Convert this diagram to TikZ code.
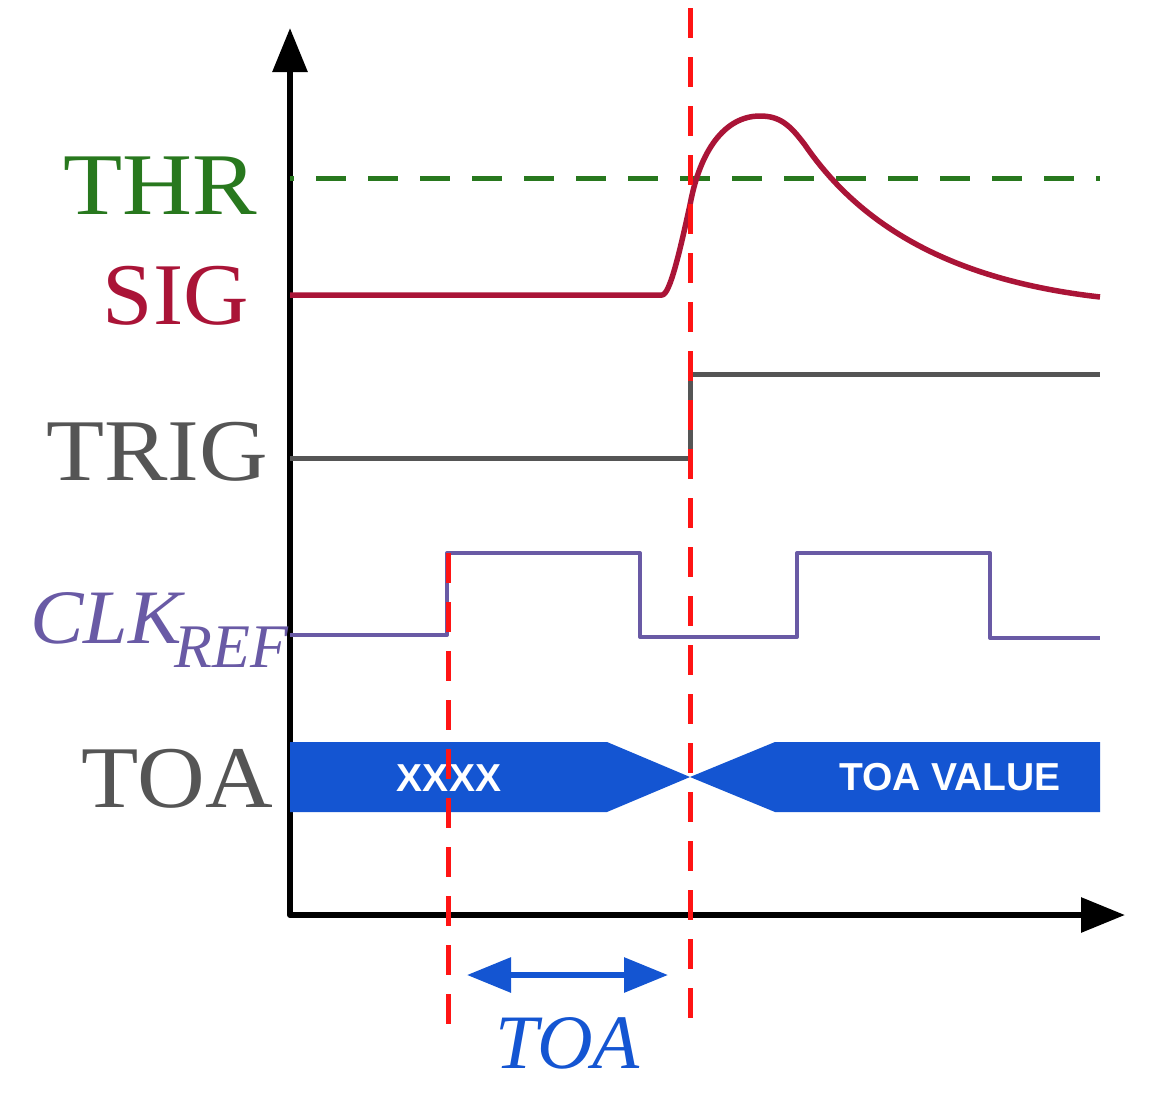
\documentclass[tikz,border=0pt]{standalone}
\usepackage{fontspec}
\setmainfont{Liberation Serif}
\newfontfamily\busfont{Liberation Sans}
\usetikzlibrary{arrows.meta}
\definecolor{thrgreen}{RGB}{40,120,30}
\definecolor{sigred}{RGB}{170,20,55}
\definecolor{triggray}{RGB}{85,85,85}
\definecolor{clkpurple}{RGB}{105,90,165}
\definecolor{busblue}{RGB}{20,85,210}
\definecolor{markred}{RGB}{255,20,20}
\begin{document}
\begin{tikzpicture}[x=1pt,y=-1pt,
  axis/.style={line width=6pt,line join=round,{Triangle[length=44pt,width=34pt]}-{Triangle[length=44pt,width=34pt]}},
  lbl/.style={anchor=base east,inner sep=0pt,font=\fontsize{88}{90}\selectfont},
  wave/.style={line width=5pt,line join=round},
  marker/.style={draw=markred,line width=5pt,dash pattern=on 30pt off 19pt},
  bus/.style={fill=busblue,draw=none},
  bustext/.style={text=white,font=\busfont\bfseries\fontsize{39}{40}\selectfont,inner sep=0pt}]
\useasboundingbox[fill=white] (0,0) rectangle (1154,1095);
% axes
\coordinate (O) at (290,915);
\coordinate (ytip) at (290,28);
\coordinate (xtip) at (1125,915);
\draw[axis] (ytip) -- (O) -- (xtip);
% labels
\node[lbl,text=thrgreen] (thr) at (257,214) {\scalebox{1.1}[1]{THR}};
\node[lbl,text=sigred] (sig) at (249,324) {\scalebox{1.03}[1]{SIG}};
\node[lbl,text=triggray] (trig) at (268,480) {\scalebox{1.08}[1]{TRIG}};
\node[lbl,text=clkpurple,anchor=base west,font=\fontsize{77}{80}\selectfont\itshape] (clk) at (30,643)
  {\scalebox{1.04}[1]{CLK}\hspace{-7pt}\raisebox{-24pt}{\fontsize{62}{64}\selectfont REF}};
\node[lbl,text=triggray] (toa) at (273,807) {\scalebox{1.065}[1]{TOA}};
% threshold
\draw[thrgreen,line width=5pt,dash pattern=on 30pt off 22pt,dash phase=26pt] (290,178) -- (1100,178);
% signal
\draw[wave,sigred,line width=5.5pt] (290,295) -- (662,295) .. controls (670,295) and (680,250) .. (690,205)
  .. controls (700,150) and (725,116) .. (760,116)
  .. controls (780,116) and (790,125) .. (805,145)
  .. controls (860,225) and (950,280) .. (1100,297);
% trigger
\draw[wave,triggray] (290,458) -- (690,458) -- (690,374) -- (1100,374);
% clock
\draw[wave,clkpurple,line width=4pt] (290,635) -- (447,635) -- (447,553) -- (640,553) -- (640,637)
  -- (797,637) -- (797,553) -- (990,553) -- (990,638) -- (1100,638);
% TOA bus
\fill[bus] (290,742) -- (607,742) -- (690,777) -- (607,812) -- (290,812) -- cycle;
\fill[bus] (690,777) -- (775,742) -- (1100,742) -- (1100,812) -- (775,812) -- cycle;
\node[bustext] (xxxx) at (449,778) {XXXX};
\node[bustext] (toaval) at (950,777) {TOA VALUE};
% markers
\coordinate (m1top) at (448,553);
\coordinate (m1bot) at (448,1032);
\coordinate (m2top) at (690,8);
\coordinate (m2bot) at (690,1025);
\draw[marker] (m1top) -- (m1bot);
\draw[marker] (m2top) -- (m2bot);
% TOA interval
\coordinate (a1) at (467,975);
\coordinate (a2) at (668,975);
\draw[busblue,line width=6pt,{Triangle[length=44pt,width=34pt]}-{Triangle[length=44pt,width=34pt]}] (a1) -- (a2);
\node[text=busblue,inner sep=0pt,anchor=base,font=\fontsize{77}{78}\selectfont\itshape] (toalbl) at (568,1068) {TOA};
\end{tikzpicture}
\end{document}
